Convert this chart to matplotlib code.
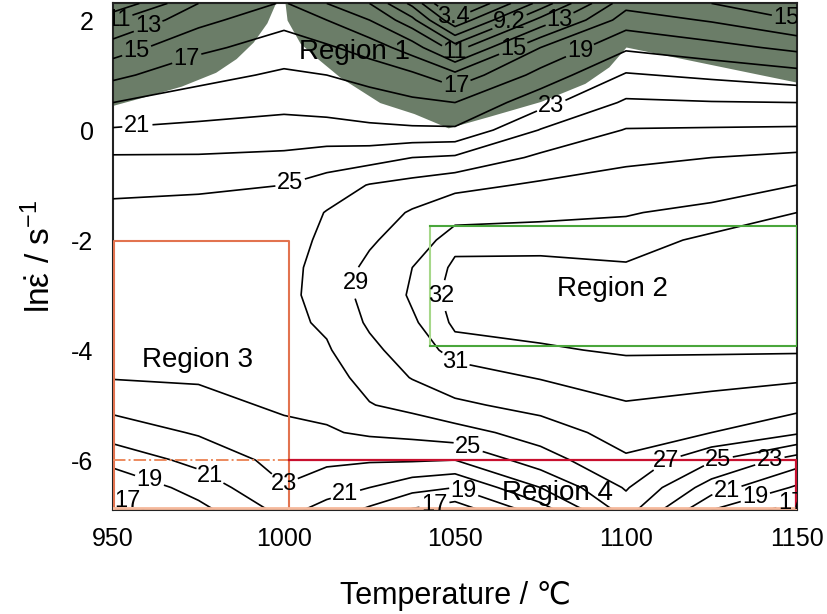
import matplotlib
matplotlib.use("Agg")
import matplotlib.pyplot as plt

plt.rcParams["font.family"] = ["Liberation Sans", "DejaVu Sans"]
plt.rcParams["mathtext.fontset"] = "custom"
plt.rcParams["mathtext.rm"] = "Liberation Sans"
plt.rcParams["mathtext.it"] = "Liberation Sans"
plt.rcParams["axes.unicode_minus"] = False

# grid: temperature (C) x ln(strain rate)
temperature = [950, 975, 1000, 1012.5, 1025, 1037.5, 1050, 1075, 1100, 1125, 1150]
ln_rate = [-6.908, -6.5, -6.0, -5.5, -5.0, -4.5, -4.0, -3.5, -3.0, -2.5,
           -2.0, -1.5, -1.0, -0.5, 0.0, 0.5, 1.0, 1.5, 2.0, 2.303]

# power dissipation efficiency (%), one row per ln_rate value
efficiency = [
    [16.2, 18.4, 21.6, 20.3, 18.6, 16.8, 15.8, 20.0, 25.9, 19.0, 16.0],
    [17.3, 19.8, 22.9, 21.8, 21.0, 19.7, 19.0, 23.0, 27.2, 22.0, 18.7],
    [19.7, 21.6, 23.7, 23.4, 23.2, 23.2, 23.0, 26.1, 28.7, 25.2, 22.0],
    [21.9, 23.2, 24.5, 24.8, 25.3, 25.6, 26.2, 27.9, 29.9, 29.0, 27.3],
    [23.6, 24.4, 25.3, 25.5, 26.9, 27.6, 28.6, 29.7, 30.9, 30.5, 29.7],
    [25.1, 25.2, 25.8, 26.2, 27.7, 29.1, 30.2, 31.1, 31.6, 31.5, 31.3],
    [25.6, 25.6, 26.2, 26.8, 28.5, 30.0, 31.6, 31.9, 32.1, 32.1, 32.1],
    [25.9, 25.9, 26.5, 27.3, 29.3, 30.8, 32.2, 32.3, 32.4, 32.5, 32.5],
    [26.0, 26.1, 26.6, 27.6, 29.8, 31.2, 32.4, 32.5, 32.5, 32.7, 32.8],
    [25.9, 26.0, 26.5, 27.6, 29.5, 31.0, 32.2, 32.3, 32.1, 32.5, 32.8],
    [25.7, 25.8, 26.2, 27.4, 28.7, 30.1, 31.7, 31.6, 31.6, 32.2, 32.5],
    [25.4, 25.4, 25.7, 27.1, 28.0, 29.2, 30.4, 30.7, 30.9, 31.4, 32.0],
    [24.6, 24.8, 25.0, 25.9, 27.1, 27.7, 28.4, 29.3, 29.8, 30.3, 31.0],
    [23.2, 23.2, 23.4, 23.9, 24.2, 25.0, 25.3, 27.4, 28.6, 29.0, 29.4],
    [21.2, 21.5, 21.8, 21.7, 21.4, 21.3, 21.3, 25.1, 27.1, 27.2, 27.3],
    [19.0, 19.9, 20.4, 20.2, 19.9, 19.4, 19.0, 22.3, 25.3, 25.1, 25.0],
    [16.5, 18.4, 19.3, 19.0, 18.3, 17.4, 15.6, 19.7, 23.2, 22.6, 21.8],
    [14.0, 16.5, 18.0, 17.3, 16.1, 14.0, 10.1, 17.0, 20.7, 19.7, 18.5],
    [10.8, 14.4, 16.4, 15.0, 13.0, 9.7, 3.8, 11.6, 18.0, 16.8, 15.0],
    [7.5, 13.0, 15.2, 13.0, 11.0, 6.8, 0.2, 8.0, 16.3, 15.0, 13.5],
]

levels = [3.4, 5.3, 7.3, 9.2, 11, 13, 15, 17, 19, 21, 23, 25, 27, 29, 31, 32]

# lower edge of the instability domain (region 1)
unstable_left_t = [950, 960, 970, 980, 986, 991, 995, 997.5]
unstable_left_y = [0.45, 0.62, 0.80, 1.05, 1.30, 1.60, 1.95, 2.31]
unstable_right_t = [1000.3, 1000.9, 1004.7, 1009.6, 1016.4, 1028, 1038, 1048,
                    1060, 1075, 1088, 1095, 1100, 1125, 1150]
unstable_right_y = [2.31, 2.0, 1.58, 1.31, 0.96, 0.5, 0.3, 0.04,
                    0.25, 0.52, 0.85, 1.15, 1.51, 1.19, 0.87]

# where the contour labels sit
label_spots = [
    (951.5, 2.05), (960, 1.94), (957, 1.42), (971, 1.42), (957, 0.2),
    (1001.8, -0.96), (1021, -2.78), (1044, -3.05), (1049, -4.3),
    (1049.4, 2.04), (1066, 1.96), (1080.7, 2.0), (1050, 1.42), (1067.5, 1.4),
    (1086.5, 1.45), (1050, 0.87), (1077.8, 0.51), (1147, 2.04),
    (1054, -5.73), (961, -6.3), (955.5, -6.6), (978, -6.33), (999.7, -6.45),
    (1017.8, -6.58), (1053, -6.47), (1044, -6.82), (1112, -6.04),
    (1127, -6.04), (1142, -6.0), (1129.5, -6.55), (1138, -6.72), (1148, -6.73),
]

y_top = 2.303
y_bot = -6.908

fig = plt.figure(figsize=(8.27, 6.14), dpi=100)
ax = fig.add_axes([113 / 827, 1 - 510 / 614, 684 / 827, 506.6 / 614])

ax.fill_between(unstable_left_t, unstable_left_y, y_top + 0.1,
                color="#6b7d68", lw=0, zorder=1)
ax.fill_between(unstable_right_t, unstable_right_y, y_top + 0.1,
                color="#6b7d68", lw=0, zorder=1)

cs = ax.contour(temperature, ln_rate, efficiency, levels=levels,
                colors="black", linewidths=1.2, zorder=3)
labels = ax.clabel(cs, fmt=lambda v: f"{v:g}", manual=label_spots, inline=True,
                   fontsize=17, inline_spacing=2)
for t in labels:
    t.set_rotation(0)

# processing domains
ax.plot([1042.7, 1042.7], [-3.93, -1.745], color="#a6d88a", lw=1.5, zorder=4)
ax.plot([1042.7, 1150, 1150, 1042.7], [-1.745, -1.745, -3.93, -3.93],
        color="#4aa63c", lw=1.5, zorder=4)
ax.plot([950.3, 950.3, 1001.5, 1001.5], [y_bot, -2.02, -2.02, y_bot],
        color="#e2734f", lw=1.5, zorder=4)
ax.plot([950, 1001.5], [-6.0, -6.0], color="#ec8a5e", lw=1.4, ls="-.", zorder=4)
ax.plot([1001.5, 1149.6, 1149.6], [-6.0, -6.0, y_bot], color="#c8102e",
        lw=1.6, zorder=4)
ax.plot([950, 1150], [-6.87, -6.87], color="#f5b99c", lw=2, zorder=4)

ax.text(1020.7, 1.42, "Region 1", ha="center", va="center", fontsize=20, zorder=5)
ax.text(1096, -2.89, "Region 2", ha="center", va="center", fontsize=20, zorder=5)
ax.text(974.6, -4.18, "Region 3", ha="center", va="center", fontsize=20, zorder=5)
ax.text(1080, -6.6, "Region 4", ha="center", va="center", fontsize=20, zorder=5)

ax.set_xlim(950, 1150)
ax.set_ylim(y_bot, y_top)
ax.set_xticks([950, 1000, 1050, 1100, 1150])
ax.set_yticks([-6, -4, -2, 0, 2])
ax.tick_params(length=0, labelsize=18)
ax.tick_params(axis="x", pad=12)
ax.tick_params(axis="y", pad=14)
for s in ax.spines.values():
    s.set_linewidth(1.5)
    s.set_color("#222222")

ax.set_xlabel("Temperature / ℃", fontsize=22, labelpad=22)
ax.set_ylabel(r"ln$\dot{\varepsilon}$ / s$^{-1}$", fontsize=24, labelpad=10)

fig.savefig("out.png", dpi=100)
